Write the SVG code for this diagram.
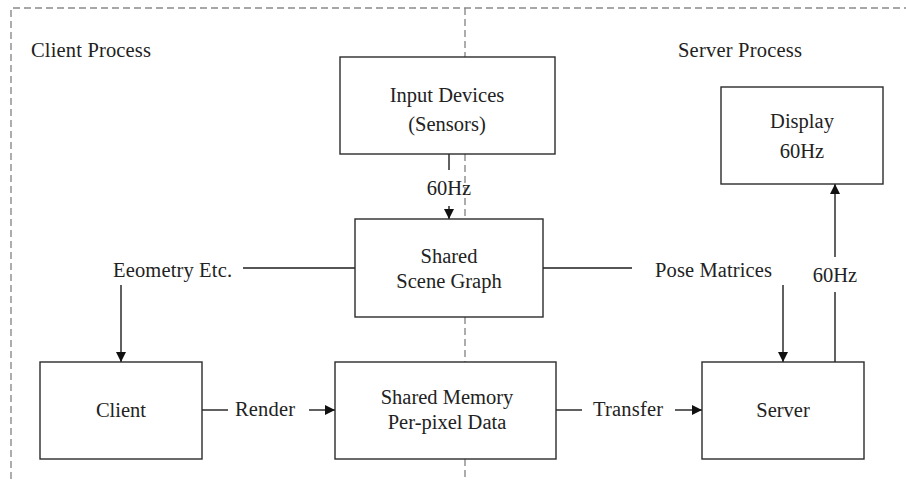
<svg xmlns="http://www.w3.org/2000/svg" width="906" height="481" viewBox="0 0 906 481">
<defs>
<style>
.box{fill:#fff;stroke:#2b2b2b;stroke-width:1.4}
.ln{fill:none;stroke:#1e1e1e;stroke-width:1.4}
.dash{fill:none;stroke:#8a8a8a;stroke-width:1.4;stroke-dasharray:7 4}
.t{font-family:'Liberation Serif',serif;font-size:20.5px;fill:#222}
.c{text-anchor:middle}
</style>
<marker id="ah" viewBox="0 0 10 10" refX="10" refY="5" markerWidth="10" markerHeight="10" markerUnits="userSpaceOnUse" orient="auto">
<path d="M0,0 L10,5 L0,10 z" fill="#111"/>
</marker>
</defs>
<rect width="906" height="481" fill="#fff"/>
<g id="boundaries">
<path class="dash" d="M11,490 L11,8 L910,8"/>
<path class="dash" d="M465,8 L465,57"/>
<path class="dash" d="M465,154 L465,219"/>
<path class="dash" d="M465,317 L465,362"/>
<path class="dash" d="M465,459 L465,485"/>
<text class="t" font-family="Liberation Serif, serif" x="31" y="57" textLength="120">Client Process</text>
<text class="t" font-family="Liberation Serif, serif" x="678" y="57" textLength="124">Server Process</text>
</g>
<g id="connectors" font-family="Liberation Serif, serif">
<path class="ln" d="M449,154 L449,170"/>
<path class="ln" d="M449,206 L449,219" marker-end="url(#ah)"/>
<text class="t c" x="449" y="195">60Hz</text>
<path class="ln" d="M243,268 L355,268"/>
<path class="ln" d="M121,285 L121,362" marker-end="url(#ah)"/>
<text class="t" x="113" y="277" textLength="119">Eeometry Etc.</text>
<path class="ln" d="M543,268 L632,268"/>
<text class="t" x="655" y="277" textLength="117">Pose Matrices</text>
<path class="ln" d="M783,285 L783,362" marker-end="url(#ah)"/>
<path class="ln" d="M835,362 L835,292"/>
<path class="ln" d="M835,257 L835,184" marker-end="url(#ah)"/>
<text class="t c" x="835" y="282">60Hz</text>
<path class="ln" d="M202,410 L228,410"/>
<text class="t" x="235" y="416" textLength="60">Render</text>
<path class="ln" d="M309,410 L335,410" marker-end="url(#ah)"/>
<path class="ln" d="M556,410 L582,410"/>
<text class="t" x="593" y="416" textLength="70">Transfer</text>
<path class="ln" d="M675,410 L702,410" marker-end="url(#ah)"/>
</g>
<g id="input-devices" font-family="Liberation Serif, serif">
<rect class="box" x="340" y="57" width="215" height="97"/>
<text class="t c" x="447" y="102">Input Devices</text>
<text class="t c" x="447" y="131">(Sensors)</text>
</g>
<g id="scene-graph" font-family="Liberation Serif, serif">
<rect class="box" x="355" y="219" width="188" height="98"/>
<text class="t c" x="449" y="263">Shared</text>
<text class="t c" x="449" y="288">Scene Graph</text>
</g>
<g id="display" font-family="Liberation Serif, serif">
<rect class="box" x="721" y="87" width="162" height="97"/>
<text class="t c" x="802" y="128">Display</text>
<text class="t c" x="802" y="158">60Hz</text>
</g>
<g id="client" font-family="Liberation Serif, serif">
<rect class="box" x="40" y="362" width="162" height="97"/>
<text class="t c" x="121" y="417">Client</text>
</g>
<g id="shared-memory" font-family="Liberation Serif, serif">
<rect class="box" x="335" y="362" width="221" height="97"/>
<text class="t c" x="447" y="404">Shared Memory</text>
<text class="t c" x="447" y="429">Per-pixel Data</text>
</g>
<g id="server" font-family="Liberation Serif, serif">
<rect class="box" x="702" y="362" width="162" height="97"/>
<text class="t c" x="783" y="417">Server</text>
</g>
</svg>
